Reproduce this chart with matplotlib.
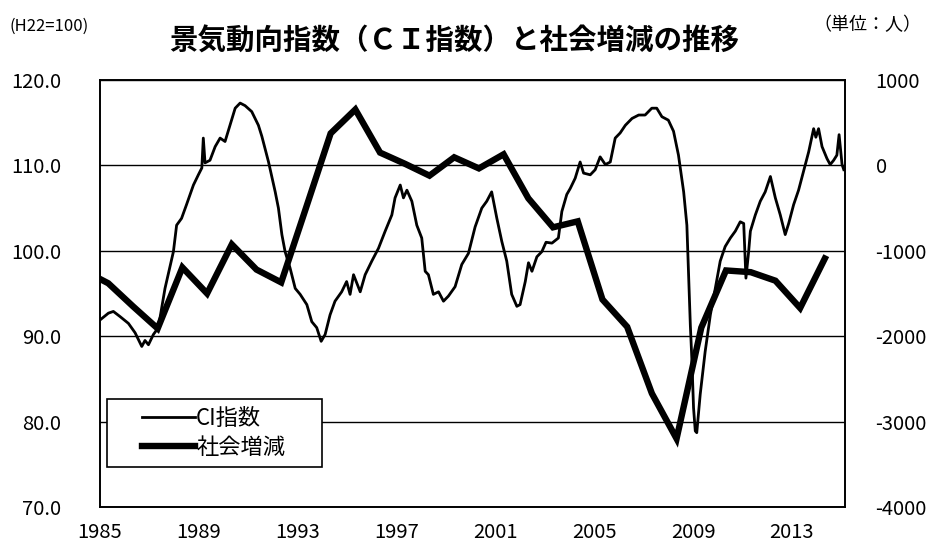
import matplotlib
matplotlib.use("Agg")
import matplotlib.pyplot as plt
from matplotlib.patches import Rectangle

plt.rcParams['font.family'] = ['Noto Sans CJK JP', 'DejaVu Sans']

# CI index (H22=100) at irregular points (decimal year)
ci_dates = [1985.00, 1985.34, 1985.54, 1985.81, 1986.15, 1986.42, 1986.69, 1986.82, 1986.96,
            1987.16, 1987.36, 1987.63, 1987.97, 1988.10, 1988.30, 1988.50, 1988.78, 1988.98,
            1989.12, 1989.18, 1989.25, 1989.45, 1989.66, 1989.86, 1990.06, 1990.26, 1990.47,
            1990.67, 1990.87, 1991.14, 1991.41, 1991.55, 1991.82, 1992.09, 1992.22, 1992.36,
            1992.49, 1992.69, 1992.90, 1993.10, 1993.37, 1993.57, 1993.77, 1993.95, 1994.11,
            1994.31, 1994.51, 1994.78, 1994.98, 1995.12, 1995.26, 1995.53, 1995.73, 1996.00,
            1996.27, 1996.54, 1996.81, 1996.94, 1997.15, 1997.28, 1997.42, 1997.62, 1997.82,
            1998.02, 1998.16, 1998.29, 1998.49, 1998.70, 1998.90, 1999.10, 1999.37, 1999.64,
            1999.91, 2000.18, 2000.45, 2000.65, 2000.85, 2001.06, 2001.26, 2001.46, 2001.66,
            2001.87, 2002.00, 2002.21, 2002.34, 2002.48, 2002.68, 2002.88, 2003.05, 2003.29,
            2003.55, 2003.69, 2003.89, 2004.03, 2004.23, 2004.43, 2004.57, 2004.84, 2005.04,
            2005.24, 2005.45, 2005.65, 2005.85, 2006.05, 2006.26, 2006.53, 2006.80, 2007.06,
            2007.33, 2007.53, 2007.74, 2008.00, 2008.21, 2008.41, 2008.62, 2008.75, 2008.82,
            2008.89, 2008.95, 2009.02, 2009.09, 2009.15, 2009.29, 2009.49, 2009.70, 2009.90,
            2010.10, 2010.30, 2010.51, 2010.71, 2010.91, 2011.05, 2011.14, 2011.25, 2011.32,
            2011.52, 2011.72, 2011.92, 2012.13, 2012.33, 2012.53, 2012.73, 2012.87, 2013.07,
            2013.27, 2013.47, 2013.68, 2013.88, 2013.97, 2014.08, 2014.22, 2014.42, 2014.55,
            2014.69, 2014.82, 2014.91, 2015.03, 2015.10]
ci_values = [91.9, 92.7, 92.9, 92.3, 91.5, 90.4, 88.8, 89.5, 89.0,
             90.2, 91.0, 95.6, 99.9, 103.0, 103.8, 105.4, 107.7, 108.9,
             109.7, 113.2, 110.3, 110.6, 112.2, 113.2, 112.8, 114.7, 116.7,
             117.3, 117.0, 116.3, 114.7, 113.4, 110.4, 106.9, 105.0, 101.9,
             99.9, 98.0, 95.6, 94.9, 93.7, 91.7, 91.0, 89.4, 90.2,
             92.5, 94.1, 95.2, 96.4, 94.9, 97.2, 95.2, 97.2, 98.8,
             100.3, 102.3, 104.2, 106.2, 107.7, 106.2, 107.1, 105.8, 103.0,
             101.5, 97.6, 97.2, 94.9, 95.2, 94.1, 94.7, 95.8, 98.4,
             99.7, 102.8, 105.0, 105.8, 106.9, 103.8, 101.1, 98.8, 94.9,
             93.5, 93.7, 96.4, 98.6, 97.6, 99.3, 99.9, 101.0, 100.9,
             101.5, 104.6, 106.6, 107.3, 108.5, 110.4, 109.1, 108.9, 109.5,
             111.0, 110.1, 110.4, 113.2, 113.8, 114.7, 115.5, 115.9, 115.9,
             116.7, 116.7, 115.7, 115.3, 114.0, 111.2, 106.9, 103.0, 97.2,
             91.3, 87.4, 81.6, 78.9, 78.7, 83.2, 88.2, 92.5, 95.6,
             98.8, 100.5, 101.5, 102.3, 103.4, 103.2, 96.8, 99.9, 102.3,
             104.2, 105.8, 106.9, 108.7, 106.2, 104.2, 101.9, 103.2, 105.4,
             107.1, 109.3, 111.6, 114.3, 113.3, 114.3, 112.2, 110.8, 110.1,
             110.6, 111.2, 113.6, 110.1, 109.5]

# social increase/decrease (persons), one value per year
soc_years = [1984, 1985, 1986, 1987, 1988, 1989, 1990, 1991, 1992, 1993,
             1994, 1995, 1996, 1997, 1998, 1999, 2000, 2001, 2002, 2003,
             2004, 2005, 2006, 2007, 2008, 2009, 2010, 2011, 2012, 2013, 2014]
soc_values = [-1230, -1380, -1650, -1910, -1195, -1500, -925, -1220, -1370, -500,
              375, 655, 150, 20, -120, 95, -35, 130, -385, -725,
              -655, -1570, -1890, -2670, -3200, -1900, -1230, -1250, -1350, -1670,
              -1090]
soc_month = 5  # annual figures sit around May of each year on the time axis

left_ticks = [70, 80, 90, 100, 110, 120]
right_ticks = [-4000, -3000, -2000, -1000, 0, 1000]
year_ticks = [1985, 1989, 1993, 1997, 2001, 2005, 2009, 2013]

fig = plt.figure(figsize=(9.33, 5.53), dpi=100)
ax = fig.add_axes([0.1072, 0.0832, 0.7985, 0.7721])
ax2 = ax.twinx()

ci_line, = ax.plot(ci_dates, ci_values, color='black', lw=2.0, label='CI指数')
soc_x = [y + (soc_month - 1) / 12 for y in soc_years]
soc_line, = ax2.plot(soc_x, soc_values, color='black', lw=4.6,
                     solid_joinstyle='miter', label='社会増減')

ax.set_xlim(1985.0, 2015.15)
ax.set_ylim(70, 120)
ax2.set_ylim(-4000, 1000)

ax.set_yticks(left_ticks)
ax.set_yticklabels([f'{v:.1f}' for v in left_ticks])
ax2.set_yticks(right_ticks)
ax2.set_yticklabels([str(v) for v in right_ticks])
ax.set_xticks(year_ticks)
ax.set_xticklabels([str(y) for y in year_ticks])

for a in (ax, ax2):
    a.tick_params(length=0, labelsize=14.5)
    for s in a.spines.values():
        s.set_linewidth(1.2)
ax.tick_params(axis='y', pad=28)
ax2.tick_params(axis='y', pad=22)
ax.tick_params(axis='x', pad=11)
ax.grid(axis='y', color='black', lw=1.0)
ax.set_axisbelow(True)

# legend box drawn by hand, legend entries sit inside it without their own frame
ax2.add_patch(Rectangle((0.009, 0.094), 0.289, 0.16, transform=ax2.transAxes,
                        facecolor='white', edgecolor='black', lw=1.2, zorder=4))
leg = ax2.legend(handles=[ci_line, soc_line], loc='center left',
                 bbox_to_anchor=(0.056, 0.174), fontsize=16, frameon=False,
                 handlelength=2.4, handletextpad=0.05, labelspacing=0.25,
                 borderpad=0, borderaxespad=0)
leg.set_zorder(5)

fig.text(0.487, 0.924, '景気動向指数（ＣＩ指数）と社会増減の推移',
         ha='center', va='center', fontsize=20.5, fontweight='bold')
fig.text(0.010, 0.953, '(H22=100)', ha='left', va='center', fontsize=12)
fig.text(0.988, 0.955, '（単位：人）', ha='right', va='center', fontsize=13)

fig.savefig('out.png', dpi=100)
